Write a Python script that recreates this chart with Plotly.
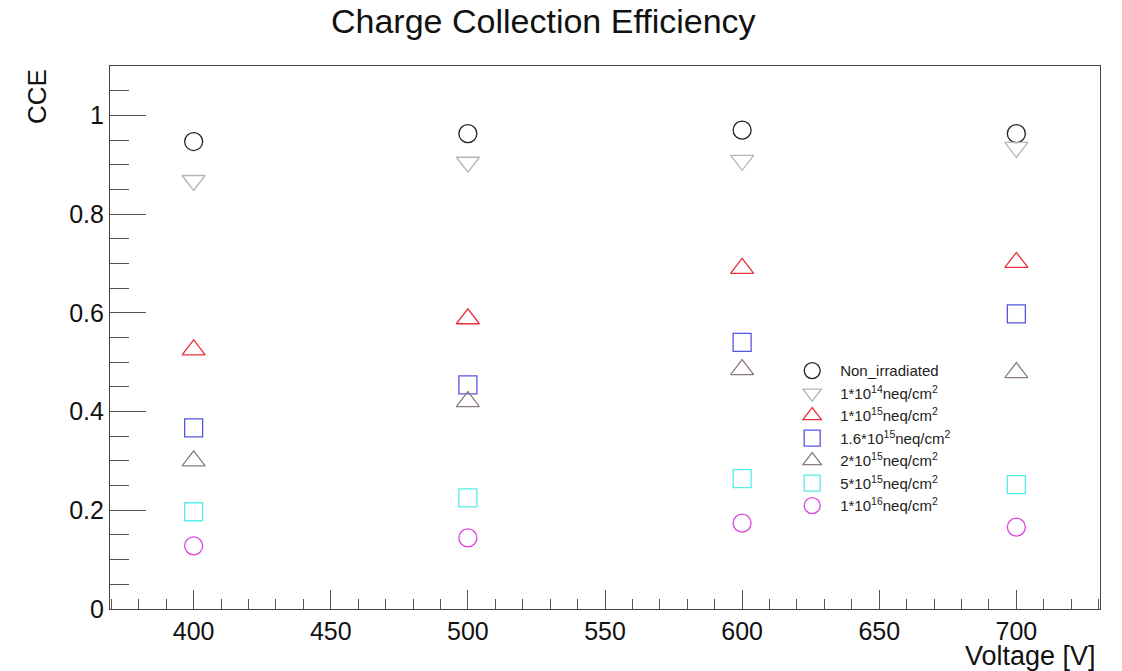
import plotly.graph_objects as go

voltage = [400, 500, 600, 700]

series_names = [
    "Non_irradiated",
    "1*10<sup>14</sup>neq/cm<sup>2</sup>",
    "1*10<sup>15</sup>neq/cm<sup>2</sup>",
    "1.6*10<sup>15</sup>neq/cm<sup>2</sup>",
    "2*10<sup>15</sup>neq/cm<sup>2</sup>",
    "5*10<sup>15</sup>neq/cm<sup>2</sup>",
    "1*10<sup>16</sup>neq/cm<sup>2</sup>",
]

cce_non_irr = [0.947, 0.963, 0.970, 0.963]
cce_1e14 = [0.868, 0.905, 0.909, 0.935]
cce_1e15 = [0.525, 0.588, 0.690, 0.702]
cce_1p6e15 = [0.367, 0.454, 0.540, 0.598]
cce_2e15 = [0.300, 0.420, 0.485, 0.479]
cce_5e15 = [0.197, 0.225, 0.264, 0.252]
cce_1e16 = [0.128, 0.144, 0.174, 0.166]

series_values = [cce_non_irr, cce_1e14, cce_1e15, cce_1p6e15, cce_2e15, cce_5e15, cce_1e16]
symbols = ["circle-open", "triangle-down-open", "triangle-up-open", "square-open",
           "triangle-up-open", "square-open", "circle-open"]
colors = ["#222222", "#b4b4b4", "#e8303c", "#5555e6", "#8c7d7a", "#55eee8", "#dd44dd"]
sizes = [18, 20, 20, 18, 20, 18, 18]

fig = go.Figure()
for name, vals, sym, col, sz in zip(series_names, series_values, symbols, colors, sizes):
    fig.add_trace(go.Scatter(
        x=voltage, y=vals, mode="markers", name=name,
        marker=dict(symbol=sym, size=sz, color=col, line=dict(color=col, width=1.3)),
    ))

font_family = "Liberation Sans, Arial, sans-serif"

fig.update_layout(
    width=1122, height=671,
    margin=dict(l=110, r=22, t=66, b=62),
    paper_bgcolor="white", plot_bgcolor="white",
    font=dict(family=font_family, color="black"),
    showlegend=True,
    legend=dict(
        x=0.681, y=0.469, xanchor="left", yanchor="top",
        bgcolor="rgba(255,255,255,0)", borderwidth=0,
        font=dict(size=15, family=font_family, color="#222"),
        tracegroupgap=0, itemsizing="trace", itemwidth=46,
    ),
    xaxis=dict(
        range=[369.5, 730.5], showgrid=False, zeroline=False,
        showline=True, linecolor="#444", linewidth=1.2, mirror=True,
        ticks="inside", ticklen=19, tickcolor="#555", tickwidth=1,
        dtick=50, tick0=400,
        tickfont=dict(size=25, family=font_family, color="#111"),
        minor=dict(ticks="inside", ticklen=10, dtick=10, tickcolor="#555", tickwidth=1),
    ),
    yaxis=dict(
        range=[0, 1.1], showgrid=False, zeroline=False,
        showline=True, linecolor="#444", linewidth=1.2, mirror=True,
        ticks="inside", ticklen=36, tickcolor="#555", tickwidth=1,
        dtick=0.2, tick0=0,
        tickfont=dict(size=25, family=font_family, color="#111"),
        minor=dict(ticks="inside", ticklen=19, dtick=0.05, tickcolor="#555", tickwidth=1),
    ),
    annotations=[
        dict(text="Charge Collection Efficiency", xref="paper", yref="paper",
             x=(543 - 110) / 990, y=(608 - 21) / 542, xanchor="center", yanchor="middle",
             showarrow=False, font=dict(size=34, family=font_family, color="#111")),
        dict(text="Voltage [V]", xref="paper", yref="paper",
             x=(1098 - 110) / 990, y=(608 - 655) / 542, xanchor="right", yanchor="middle",
             showarrow=False, font=dict(size=27, family=font_family, color="#111")),
        dict(text="CCE", xref="paper", yref="paper", textangle=-90,
             x=(37 - 110) / 990, y=(608 - 97) / 542, xanchor="center", yanchor="middle",
             showarrow=False, font=dict(size=26, family=font_family, color="#111")),
    ],
)

fig.write_html("out.html")
